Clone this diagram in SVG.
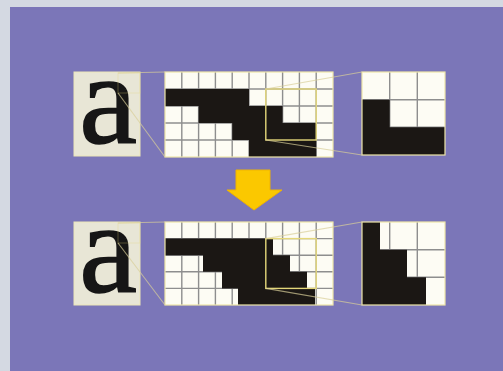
<svg xmlns="http://www.w3.org/2000/svg" width="503" height="371" viewBox="0 0 503 371">
  <defs>
    <style>
      .abox { fill: #e8e6d6; stroke: #ece6b8; stroke-width: 1; }
      .glyph { font-family: "Liberation Serif", "DejaVu Serif", serif; font-size: 130px; fill: #161616; stroke: #161616; stroke-width: 1.6; text-anchor: middle; }
      .gridbg { fill: #fdfcf4; }
      .gl { stroke: #8e8e8e; stroke-width: 1.4; fill: none; }
      .ink { fill: #1b1714; }
      .edge { fill: none; stroke: #eee6a8; stroke-width: 1.2; }
      .zr { fill: none; stroke: #e4d77a; stroke-width: 1.4; }
      .zs { fill: none; stroke: #e4d77a; stroke-width: 1; opacity: 0.3; }
      .conn { fill: none; stroke: #d9cf98; stroke-width: 1.1; opacity: 0.7; }
    </style>
  </defs>

  <!-- background -->
  <rect x="0" y="0" width="503" height="371" fill="#d4d9e2"/>
  <rect x="10" y="7" width="493" height="364" fill="#7b76b8"/>

  <!-- top row -->
  <g id="a-top">
    <rect class="abox" x="74" y="72" width="66" height="84"/>
    <text class="glyph" x="108" y="143">a</text>
    <rect class="zs" x="118" y="73" width="22" height="20"/>
  </g>
  <g id="grid-top">
    <rect class="gridbg" x="165" y="72" width="168" height="85"/>
    <g class="gl">
      <path d="M181.8 72V157M198.6 72V157M215.4 72V157M232.2 72V157M249 72V157M265.8 72V157M282.6 72V157M299.4 72V157M316.2 72V157"/>
      <path d="M165 89H333M165 106H333M165 123H333M165 140H333"/>
    </g>
    <polygon class="ink" points="165,89 249,89 249,106 282.6,106 282.6,123 316.2,123 316.2,157 249,157 249,140 232.2,140 232.2,123 198.6,123 198.6,106 165,106"/>
    <rect class="edge" x="165" y="72" width="168" height="85"/>
    <rect class="zr" x="265.8" y="89" width="50.4" height="51"/>
  </g>
  <g id="zoom-top">
    <rect class="gridbg" x="362" y="72" width="83" height="83"/>
    <g class="gl">
      <path d="M389.7 72V155M417.3 72V155M362 99.7H445M362 127.3H445"/>
    </g>
    <polygon class="ink" points="362,99.7 389.7,99.7 389.7,127.3 445,127.3 445,155 362,155"/>
    <rect class="edge" x="362" y="72" width="83" height="83"/>
  </g>

  <!-- arrow -->
  <g id="arrow">
    <polygon points="236,170 270,170 270,190 282,190 254,210 227,190 236,190" fill="#fbc800" stroke="#f0b400" stroke-width="1"/>
  </g>

  <!-- bottom row -->
  <g id="a-bottom">
    <rect class="abox" x="74" y="222" width="66" height="83"/>
    <text class="glyph" x="108" y="292">a</text>
    <rect class="zs" x="118" y="223" width="22" height="20"/>
  </g>
  <g id="grid-bottom">
    <rect class="gridbg" x="165" y="222" width="168" height="83"/>
    <g class="gl">
      <path d="M181.8 222V305M198.6 222V305M215.4 222V305M232.2 222V305M249 222V305M265.8 222V305M282.6 222V305M299.4 222V305M316.2 222V305"/>
      <path d="M165 238.6H333M165 255.2H333M165 271.8H333M165 288.4H333"/>
    </g>
    <polygon class="ink" points="165,238.6 273,238.6 273,255.2 290,255.2 290,271.8 307,271.8 307,288.4 315,288.4 315,305 238,305 238,288.4 222,288.4 222,271.8 203,271.8 203,255.2 165,255.2"/>
    <rect class="edge" x="165" y="222" width="168" height="83"/>
    <rect class="zr" x="265.8" y="238.6" width="50.4" height="49.8"/>
  </g>
  <g id="zoom-bottom">
    <rect class="gridbg" x="362" y="222" width="83" height="83"/>
    <g class="gl">
      <path d="M389.7 222V305M417.3 222V305M362 249.7H445M362 277.3H445"/>
    </g>
    <polygon class="ink" points="362,222 380,222 380,249.7 407,249.7 407,277.3 426,277.3 426,305 362,305"/>
    <rect class="edge" x="362" y="222" width="83" height="83"/>
  </g>

  <!-- connectors -->
  <g id="connectors">
    <line class="conn" x1="118" y1="73" x2="165" y2="72"/>
    <line class="conn" x1="118" y1="93" x2="165" y2="157"/>
    <line class="conn" x1="265.8" y1="89" x2="362" y2="72"/>
    <line class="conn" x1="265.8" y1="140" x2="362" y2="155"/>
    <line class="conn" x1="118" y1="223" x2="165" y2="222"/>
    <line class="conn" x1="118" y1="243" x2="165" y2="305"/>
    <line class="conn" x1="265.8" y1="238.6" x2="362" y2="222"/>
    <line class="conn" x1="265.8" y1="288.4" x2="362" y2="305"/>
  </g>
</svg>
